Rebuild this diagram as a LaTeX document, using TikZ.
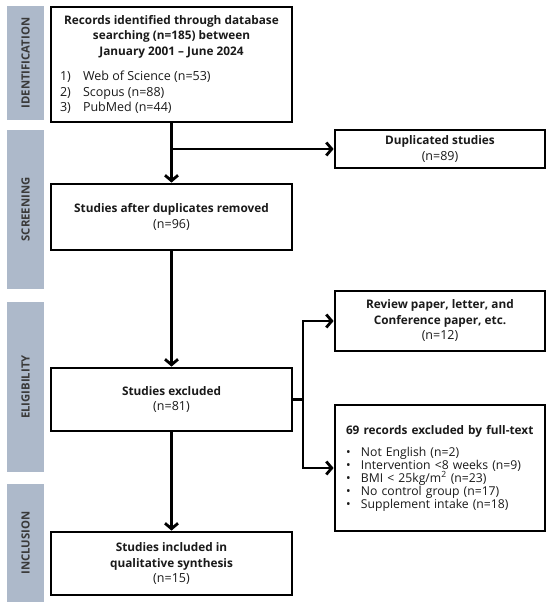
\documentclass[tikz,border=0pt]{standalone}
\usepackage{fontspec}
\setmainfont{Open Sans}
\usetikzlibrary{arrows.meta}
\definecolor{bandc}{HTML}{ADB9CA}
\definecolor{bandtext}{HTML}{3A3A3A}
\definecolor{txt}{HTML}{1A1A1A}
\newcommand{\hb}[1]{{\fontsize{11.8}{15.5}\selectfont\bfseries #1}}
\begin{document}
\begin{tikzpicture}[x=1pt,y=-1pt,
  box/.style={draw=black, line width=2.8pt, fill=white, inner sep=0pt, align=center,
    text=txt, font=\fontsize{12.5}{15.5}\selectfont},
  mainbox/.style={box, minimum width=241pt},
  sidebox/.style={box, minimum width=210pt},
  band/.style={fill=bandc, rotate=90, minimum height=37pt, inner sep=0pt,
    text=bandtext, font=\bfseries\fontsize{11.3}{12}\selectfont},
  arr/.style={-{Straight Barb[length=5.5pt,width=13pt]}, line width=2.8pt},
  conn/.style={line width=2.8pt}
]
\useasboundingbox (0,0) rectangle (550,607);
% phase bands
\node[band, minimum width=114pt] (bid) at (25.5,63) {IDENTIFICATION};
\node[band, minimum width=159pt] (bsc) at (25.5,209.5) {SCREENING};
\node[band, minimum width=170pt] (bel) at (25.5,387) {ELIGIBILITY};
\node[band, minimum width=118pt] (bin) at (25.5,543) {INCLUSION};
% main boxes
\node[mainbox, minimum height=115pt] (b1) at (171.5,64.5) {%
  \hb{Records identified through database}\\
  \hb{searching (n=185) between}\\
  \hb{January 2001 – June 2024}\\[10pt]
  \makebox[223pt][l]{\makebox[23pt][l]{1)}Web of Science (n=53)}\\
  \makebox[223pt][l]{\makebox[23pt][l]{2)}Scopus (n=88)}\\
  \makebox[223pt][l]{\makebox[23pt][l]{3)}PubMed (n=44)}};
\node[mainbox, minimum height=66pt] (b2) at (171.5,217) {%
  \hb{Studies after duplicates removed}\\(n=96)};
\node[mainbox, minimum height=63pt] (b3) at (171.5,399.5) {%
  \hb{Studies excluded}\\(n=81)};
\node[mainbox, minimum height=63pt] (b4) at (171.5,563.5) {%
  \hb{Studies included in}\\\hb{qualitative synthesis}\\(n=15)};
% side boxes
\node[sidebox, minimum height=38pt] (dup) at (440,149) {%
  \hb{Duplicated studies}\\(n=89)};
\node[sidebox, minimum height=60pt] (rev) at (440,321) {%
  \hb{Review paper, letter, and}\\\hb{Conference paper, etc.}\\(n=12)};
\node[sidebox, minimum height=126pt, align=left, text width=188pt,
  font=\fontsize{12.2}{13}\selectfont] (ex) at (440,468) {%
  \hb{69 records excluded by full-text}\\[9pt]
  \makebox[15pt][l]{•}Not English (n=2)\\
  \makebox[15pt][l]{•}Intervention <8 weeks (n=9)\\
  \makebox[15pt][l]{•}BMI < 25kg/m\textsuperscript{2} (n=23)\\
  \makebox[15pt][l]{•}No control group (n=17)\\
  \makebox[15pt][l]{•}Supplement intake (n=18)};
% connectors
\coordinate (j1) at (b1.south |- dup.west);
\coordinate (j2) at (303,399.5);
\draw[arr] (b1.south) -- (b2.north);
\draw[arr] (j1) -- (dup.west);
\draw[arr] (b2.south) -- (b3.north);
\draw[arr] (b3.south) -- (b4.north);
\draw[conn] (b3.east) -- (j2);
\draw[arr] (j2) |- (rev.west);
\draw[arr] (j2) |- (ex.west);
\end{tikzpicture}
\end{document}
